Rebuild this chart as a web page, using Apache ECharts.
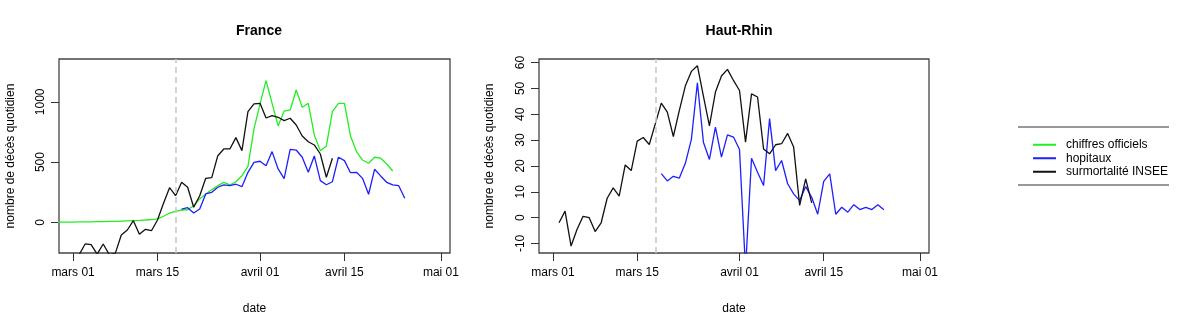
<!DOCTYPE html>
<html>
<head>
<meta charset="utf-8">
<script src="https://cdn.jsdelivr.net/npm/echarts@6/dist/echarts.min.js"></script>
<style>
html,body{margin:0;padding:0;background:#fff;}
#chart{width:1200px;height:327px;}
</style>
</head>
<body>
<div id="chart"></div>
<script>
// ---------------- data ----------------
const seriesNames = ['chiffres officiels', 'hopitaux', 'surmortalité INSEE'];
const tickDates = ['2020-03-01', '2020-03-15', '2020-04-01', '2020-04-15', '2020-05-01'];
const tickLabels = ['mars 01', 'mars 15', 'avril 01', 'avril 15', 'mai 01'];
const confinementDate = '2020-03-18';

// France
const franceOfficielStart = '2020-02-27';
const franceOfficiel = [0, 1, 1, 2, 3, 3, 4, 5, 6, 7, 8, 10, 12, 14, 16, 19, 23, 28,
  50, 77, 91, 102, 104, 138, 194, 235, 271, 304, 332, 310, 337, 387, 465, 775, 983, 1176,
  988, 800, 924, 933, 1099, 955, 988, 725, 595, 634, 919, 988, 988, 717, 587, 517, 490,
  540, 532, 484, 426];
const franceHopitauxStart = '2020-03-19';
const franceHopitaux = [110, 121, 77, 110, 235, 249, 291, 310, 304, 316, 296, 415, 498, 507,
  470, 587, 443, 362, 606, 600, 540, 415, 551, 346, 312, 337, 540, 512, 412, 415, 365, 233,
  440, 385, 332, 310, 304, 199];
const franceInseeStart = '2020-03-02';
const franceInsee = [-270, -180, -186, -265, -180, -268, -258, -105, -64, 13, -100, -58, -70,
  19, 158, 287, 221, 332, 291, 125, 221, 365, 371, 553, 609, 609, 703, 595, 919, 983, 988,
  866, 886, 872, 844, 864, 808, 717, 669, 642, 567, 374, 532];

// Haut-Rhin
const hautRhinHopitauxStart = '2020-03-19';
const hautRhinHopitaux = [17, 14.2, 16, 15.3, 21, 30.3, 52.2, 29.2, 22.5, 35, 23.4, 32, 31.2,
  26.4, -20, 23, 17.6, 12.4, 38.3, 18.2, 22.1, 13.1, 9.2, 6.6, 12, 7.9, 1.3, 14, 16.9, 1.3,
  4, 2.1, 5, 3.1, 4, 3.1, 5, 3];
const hautRhinInseeStart = '2020-03-02';
const hautRhinInsee = [-2, 2.5, -11, -4.5, 0.5, 0, -5.4, -2, 7.5, 11.5, 8.3, 20.4, 18.2, 29.6,
  31, 28.3, 36.3, 44.3, 40.8, 31.4, 41.5, 51, 56.6, 58.8, 47, 35.5, 48.6, 54.8, 57.4, 53.1,
  49.2, 29.2, 47.9, 46.7, 26.6, 24.7, 28.2, 28.6, 32.6, 27.3, 4.7, 15, 5.7];

const franceYTicks = [0, 500, 1000];
const hautRhinYTicks = [-10, 0, 10, 20, 30, 40, 50, 60];

// ---------------- helpers ----------------
const REF = Date.UTC(2020, 2, 1);
function dayIndex(iso) {
  const p = iso.split('-').map(Number);
  return Math.round((Date.UTC(p[0], p[1] - 1, p[2]) - REF) / 86400000);
}
function pairs(start, vals) {
  const s = dayIndex(start);
  return vals.map((v, i) => [s + i, v]);
}
const tickDays = tickDates.map(dayIndex);
const labelOf = {};
tickDays.forEach((d, i) => { labelOf[d] = tickLabels[i]; });
const confDay = dayIndex(confinementDate);

const colors = { 'chiffres officiels': '#22ee22', 'hopitaux': '#1e1eff', 'surmortalité INSEE': '#111111' };
const FONT = '"Liberation Sans", Arial, Helvetica, sans-serif';

function xAxis(gi) {
  return {
    type: 'value', gridIndex: gi, min: -2.33, max: 62.5, position: 'bottom',
    name: 'date', nameLocation: 'middle', nameGap: 50,
    nameTextStyle: { fontSize: 12, color: '#000', fontFamily: FONT },
    axisLine: { show: false, onZero: false },
    splitLine: { show: false },
    axisTick: { show: true, customValues: tickDays, length: 8, lineStyle: { color: '#333', width: 1 } },
    axisLabel: { customValues: tickDays, formatter: v => labelOf[v] || '', margin: 14,
      fontSize: 12, color: '#000', fontFamily: FONT }
  };
}
function yAxis(gi, min, max, ticks, gap) {
  return {
    type: 'value', gridIndex: gi, min: min, max: max, position: 'left',
    name: 'nombre de décès quotidien', nameLocation: 'middle', nameGap: gap, nameRotate: 90,
    nameTextStyle: { fontSize: 12, color: '#000', fontFamily: FONT },
    axisLine: { show: false, onZero: false },
    splitLine: { show: false },
    axisTick: { show: true, customValues: ticks, length: 8, lineStyle: { color: '#333', width: 1 } },
    axisLabel: { customValues: ticks, formatter: v => String(v), rotate: 90, margin: 12,
      fontSize: 12, color: '#000', fontFamily: FONT }
  };
}
function line(name, gi, data, withMark) {
  const s = {
    name: name, type: 'line', xAxisIndex: gi, yAxisIndex: gi, data: data,
    showSymbol: false, symbol: 'none', clip: true, animation: false,
    lineStyle: { color: colors[name], width: 1.3 }, itemStyle: { color: colors[name] }
  };
  if (withMark) {
    s.markLine = {
      silent: true, symbol: 'none', label: { show: false },
      lineStyle: { color: '#c8c8c8', type: [6, 4], width: 1.6 },
      data: [{ xAxis: confDay }]
    };
  }
  return s;
}

const chart = echarts.init(document.getElementById('chart'), null, { renderer: 'canvas' });
chart.setOption({
  animation: false,
  backgroundColor: '#fff',
  title: [
    { text: 'France', left: 254, top: 19, textAlign: 'center',
      textStyle: { fontSize: 14, fontWeight: 'bold', color: '#000', fontFamily: FONT } },
    { text: 'Haut-Rhin', left: 734, top: 19, textAlign: 'center',
      textStyle: { fontSize: 14, fontWeight: 'bold', color: '#000', fontFamily: FONT } }
  ],
  grid: [
    { left: 59, top: 59, width: 391, height: 194, show: true, borderColor: '#444', borderWidth: 1.3, containLabel: false },
    { left: 539, top: 59, width: 390, height: 194, show: true, borderColor: '#444', borderWidth: 1.3, containLabel: false }
  ],
  xAxis: [xAxis(0), xAxis(1)],
  yAxis: [yAxis(0, -255, 1356, franceYTicks, 42), yAxis(1, -13.7, 61.4, hautRhinYTicks, 43)],
  legend: {
    data: seriesNames, orient: 'vertical', left: 1028, top: 133,
    icon: 'rect', itemWidth: 23, itemHeight: 2, itemGap: 0,
    textStyle: { fontSize: 12, color: '#000', fontFamily: FONT, lineHeight: 13.5, padding: [0, 0, 0, 5] },
    selectedMode: false
  },
  graphic: [
    { type: 'line', shape: { x1: 1018, y1: 127, x2: 1169, y2: 127 }, style: { stroke: '#333', lineWidth: 1.2 } },
    { type: 'line', shape: { x1: 1018, y1: 185, x2: 1169, y2: 185 }, style: { stroke: '#333', lineWidth: 1.2 } }
  ],
  series: [
    line('chiffres officiels', 0, pairs(franceOfficielStart, franceOfficiel), true),
    line('hopitaux', 0, pairs(franceHopitauxStart, franceHopitaux), false),
    line('surmortalité INSEE', 0, pairs(franceInseeStart, franceInsee), false),
    line('hopitaux', 1, pairs(hautRhinHopitauxStart, hautRhinHopitaux), true),
    line('surmortalité INSEE', 1, pairs(hautRhinInseeStart, hautRhinInsee), false)
  ]
});
</script>
</body>
</html>
